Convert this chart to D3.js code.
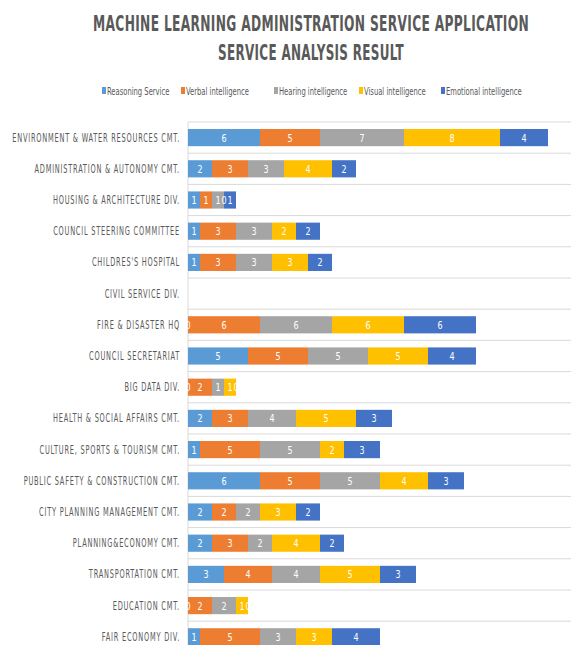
<!DOCTYPE html>
<html>
<head>
<meta charset="utf-8">
<script src="https://cdn.jsdelivr.net/npm/d3@7"></script>
<style>
  body { margin: 0; background: #fff; }
  svg { display: block; }
</style>
</head>
<body>
<svg width="571" height="645"></svg>
<script>
var categories = [
  "ENVIRONMENT & WATER RESOURCES CMT.",
  "ADMINISTRATION & AUTONOMY CMT.",
  "HOUSING & ARCHITECTURE DIV.",
  "COUNCIL STEERING COMMITTEE",
  "CHILDRES'S HOSPITAL",
  "CIVIL SERVICE DIV.",
  "FIRE & DISASTER HQ",
  "COUNCIL SECRETARIAT",
  "BIG DATA DIV.",
  "HEALTH & SOCIAL AFFAIRS CMT.",
  "CULTURE, SPORTS & TOURISM CMT.",
  "PUBLIC SAFETY & CONSTRUCTION CMT.",
  "CITY PLANNING MANAGEMENT CMT.",
  "PLANNING&ECONOMY CMT.",
  "TRANSPORTATION CMT.",
  "EDUCATION CMT.",
  "FAIR ECONOMY DIV."
];

var seriesNames = ["Reasoning Service", "Verbal intelligence", "Hearing intelligence", "Visual intelligence", "Emotional intelligence"];
var seriesColors = ["#5b9bd5", "#ed7d31", "#a5a5a5", "#ffc000", "#4472c4"];

// civil service div. has no data
var reasoning = [6, 2, 1, 1, 1, null, 0, 5, 0, 2, 1, 6, 2, 2, 3, 0, 1];
var verbal    = [5, 3, 1, 3, 3, null, 6, 5, 2, 3, 5, 5, 2, 3, 4, 2, 5];
var hearing   = [7, 3, 1, 3, 3, null, 6, 5, 1, 4, 5, 5, 2, 2, 4, 2, 3];
var visual    = [8, 4, 0, 2, 3, null, 6, 5, 1, 5, 2, 4, 3, 4, 5, 1, 3];
var emotional = [4, 2, 1, 2, 2, null, 6, 4, 0, 3, 3, 3, 2, 2, 3, 0, 4];

var svg = d3.select("svg"),
    width = +svg.attr("width"),
    height = +svg.attr("height");

var font = "'DejaVu Sans Condensed', 'DejaVu Sans', sans-serif";

var rows = categories.map(function(c, i) {
  return {
    cat: c,
    s0: reasoning[i], s1: verbal[i], s2: hearing[i], s3: visual[i], s4: emotional[i]
  };
});
var keys = ["s0", "s1", "s2", "s3", "s4"];

var stack = d3.stack().keys(keys).value(function(d, k) { return d[k] || 0; });
var layers = stack(rows);

var x0 = 188;
var x = d3.scaleLinear().domain([0, 30]).range([x0, x0 + 360]);
var y = d3.scaleBand().domain(categories).range([122, 652.4])
    .paddingInner(0.45).paddingOuter(0.225);

// the original uses a very narrow face, so text is squeezed with a scale transform
function narrowText(parent, str, px, py, k, anchor) {
  var g = parent.append("g").attr("transform", "translate(" + px + "," + py + ") scale(" + k + ",1)");
  return g.append("text").attr("text-anchor", anchor).text(str);
}

// title, scaled to the width of the original lines
var titleLines = [
  {text: "MACHINE LEARNING ADMINISTRATION SERVICE APPLICATION", y: 31, w: 436},
  {text: "SERVICE ANALYSIS RESULT", y: 60, w: 186}
];
var titleG = svg.append("g")
    .attr("font-family", font)
    .attr("font-weight", "bold")
    .attr("font-size", 21)
    .attr("letter-spacing", 0.5)
    .attr("fill", "#595959");
titleLines.forEach(function(t) {
  var txt = narrowText(titleG, t.text, 311, t.y, 1, "middle");
  var k = t.w / txt.node().getComputedTextLength();
  d3.select(txt.node().parentNode).attr("transform", "translate(311," + t.y + ") scale(" + k + ",1)");
});

// legend
var legendX = [102, 181, 274, 359, 441];
var legend = svg.append("g").attr("font-family", font).attr("font-size", 10.5).attr("fill", "#595959");
seriesNames.forEach(function(name, i) {
  legend.append("rect").attr("x", legendX[i]).attr("y", 87).attr("width", 4).attr("height", 7)
      .attr("fill", seriesColors[i]);
  narrowText(legend, name, legendX[i] + 5, 94.5, 0.72, "start");
});

// grid lines + axis
var step = y.step();
var grid = svg.append("g");
grid.selectAll("line").data(d3.range(categories.length + 1)).enter().append("line")
    .attr("x1", x0).attr("x2", width)
    .attr("y1", function(i) { return 122 + i * step; })
    .attr("y2", function(i) { return 122 + i * step; })
    .attr("stroke", "#d9d9d9").attr("stroke-width", 1);
svg.append("line").attr("x1", x0).attr("x2", x0).attr("y1", 122).attr("y2", height)
    .attr("stroke", "#d9d9d9");

// category labels
var catG = svg.append("g").attr("font-family", font).attr("font-size", 11.5).attr("fill", "#595959")
    .attr("letter-spacing", 1.2);
var catTexts = categories.map(function(c) {
  return narrowText(catG, c, 180, y(c) + y.bandwidth() / 2 + 4, 1, "end");
});
var catK = 168 / catTexts[0].node().getComputedTextLength();
catTexts.forEach(function(t, i) {
  var c = categories[i];
  d3.select(t.node().parentNode)
    .attr("transform", "translate(180," + (y(c) + y.bandwidth() / 2 + 4) + ") scale(" + catK + ",1)");
});

// bars
var bars = svg.append("g");
layers.forEach(function(layer, li) {
  bars.append("g").attr("fill", seriesColors[li])
    .selectAll("rect").data(layer).enter().append("rect")
      .attr("x", function(d) { return x(d[0]); })
      .attr("y", function(d) { return y(d.data.cat); })
      .attr("width", function(d) { return x(d[1]) - x(d[0]); })
      .attr("height", y.bandwidth());
});

// value labels
var labels = svg.append("g").attr("font-family", font).attr("font-size", 10.5)
    .attr("fill", "#fff");
layers.forEach(function(layer, li) {
  layer.forEach(function(d) {
    var v = d.data[keys[li]];
    if (v == null) return;
    narrowText(labels, v, (x(d[0]) + x(d[1])) / 2, y(d.data.cat) + y.bandwidth() / 2 + 4, 0.85, "middle");
  });
});
</script>
</body>
</html>
